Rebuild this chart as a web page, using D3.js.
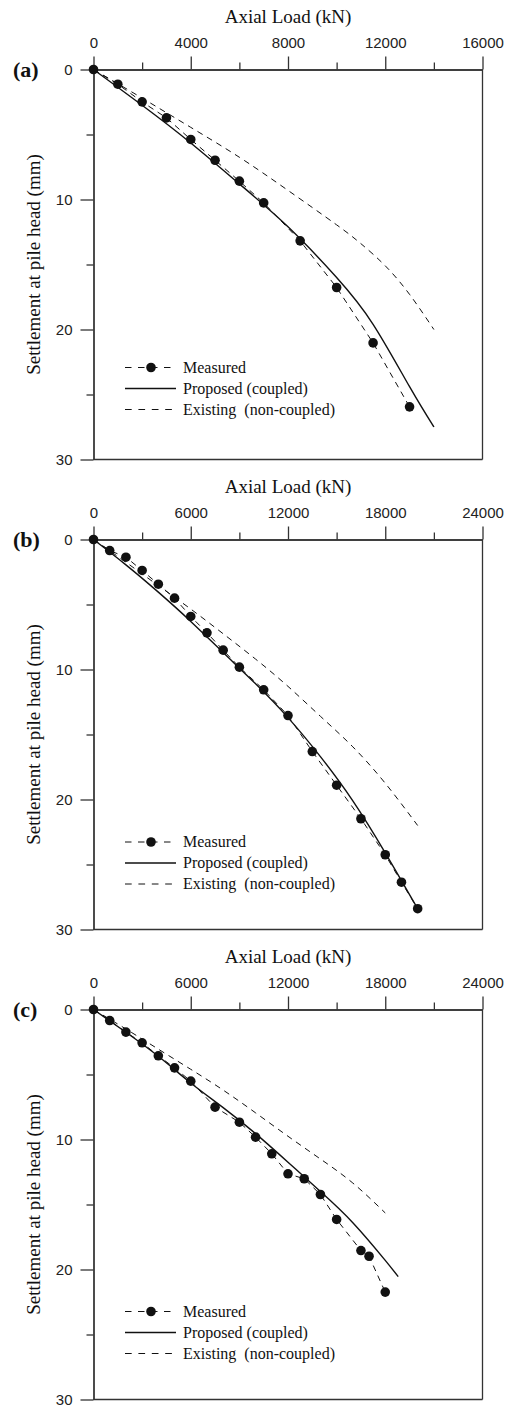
<!DOCTYPE html>
<html>
<head>
<meta charset="utf-8">
<script src="https://cdn.jsdelivr.net/npm/d3@7"></script>
<style>
  html, body { margin: 0; padding: 0; background: #fff; }
  svg { display: block; }
</style>
</head>
<body>
<svg id="chart" width="512" height="1405"></svg>
<script>
// Load–settlement curves of three test piles: [load (kN), settlement (mm)]
const measuredA = [[0,0],[1000,1.13],[2000,2.49],[3000,3.72],[4000,5.38],[5000,6.98],[6000,8.59],[7000,10.26],[8500,13.18],[10000,16.77],[11500,21.03],[13000,25.95]];
const proposedA = [[0,0],[2000,2.75],[4000,5.65],[6000,8.8],[8000,12.1],[10000,16.0],[11500,19.6],[13000,24.4],[14000,27.5]];
const existingA = [[0,0],[2000,2.2],[4000,4.45],[6000,6.75],[8000,9.3],[10000,11.95],[11000,13.4],[12000,15.1],[13000,17.3],[14000,20.0]];

const measuredB = [[0,0],[1000,0.85],[2000,1.36],[3000,2.38],[4000,3.44],[5000,4.51],[6000,5.92],[7000,7.18],[8000,8.51],[9000,9.82],[10500,11.56],[12000,13.54],[13500,16.31],[15000,18.9],[16500,21.48],[18000,24.25],[19000,26.36],[20000,28.4]];
const proposedB = [[0,0],[2000,1.95],[4000,4.05],[6000,6.3],[8000,8.7],[10000,11.1],[12000,13.7],[14000,16.7],[16000,20.1],[18000,24.1],[20000,28.4]];
const existingB = [[0,0],[2000,1.75],[4000,3.55],[6000,5.35],[8000,7.25],[10000,9.2],[12000,11.3],[14000,13.6],[16000,15.95],[18000,18.75],[20000,22.0]];

const measuredC = [[0,0],[1000,0.85],[2000,1.74],[3000,2.56],[4000,3.56],[5000,4.49],[6000,5.51],[7500,7.51],[9000,8.67],[10000,9.82],[11000,11.1],[12000,12.64],[13000,13.02],[14000,14.23],[15000,16.15],[16500,18.54],[17000,18.98],[18000,21.74]];
const proposedC = [[0,0],[2000,1.75],[4000,3.6],[6000,5.65],[8000,7.55],[10000,9.55],[12000,11.75],[14000,14.0],[16000,16.4],[18000,19.3],[18800,20.55]];
const existingC = [[0,0],[2000,1.5],[4000,3.05],[6000,4.6],[8000,6.2],[10000,7.95],[12000,9.75],[14000,11.5],[16000,13.35],[18000,15.65]];

// Axis ticks
const loadTicksA = [0, 4000, 8000, 12000, 16000];
const loadMinorA = [2000, 6000, 10000, 14000];
const loadTicksBC = [0, 6000, 12000, 18000, 24000];
const loadMinorBC = [3000, 9000, 15000, 21000];
const settleTicks = [0, 10, 20, 30];
const settleMinor = [5, 15, 25];

const panelLabels = ["(a)", "(b)", "(c)"];
const legendLabels = ["Measured", "Proposed (coupled)", "Existing  (non-coupled)"];

const panels = [
  { label: panelLabels[0], xMax: 16000, ticks: loadTicksA, minor: loadMinorA, measured: measuredA, proposed: proposedA, existing: existingA, legendTop: 298 },
  { label: panelLabels[1], xMax: 24000, ticks: loadTicksBC, minor: loadMinorBC, measured: measuredB, proposed: proposedB, existing: existingB, legendTop: 302.5 },
  { label: panelLabels[2], xMax: 24000, ticks: loadTicksBC, minor: loadMinorBC, measured: measuredC, proposed: proposedC, existing: existingC, legendTop: 302 }
];

const SERIF = "'Liberation Serif', 'Times New Roman', serif";
const SANS = "'Liberation Sans', Arial, sans-serif";
const INK = "#111";
const AXIS = "#333";

const left = 93.5, right = 482.5, plotH = 390, step = 470, firstTop = 69.5;

const svg = d3.select("#chart");

panels.forEach((p, i) => {
  const top = firstTop + i * step;
  const bottom = top + plotH;
  const x = d3.scaleLinear().domain([0, p.xMax]).range([left, right]);
  const y = d3.scaleLinear().domain([0, 30]).range([top, bottom]);
  const g = svg.append("g");

  // top load axis: major ticks with labels, minor ticks between
  g.append("g").attr("transform", `translate(0,${top})`)
    .call(d3.axisTop(x).tickValues(p.ticks).tickSize(13).tickSizeOuter(0).tickPadding(9).tickFormat(d3.format("d")));
  g.append("g").attr("transform", `translate(0,${top})`)
    .call(d3.axisTop(x).tickValues(p.minor).tickSize(7).tickSizeOuter(0).tickFormat(""));

  // left settlement axis
  g.append("g").attr("transform", `translate(${left},0)`)
    .call(d3.axisLeft(y).tickValues(settleTicks).tickSize(13).tickSizeOuter(0).tickPadding(8).tickFormat(d3.format("d")));
  g.append("g").attr("transform", `translate(${left},0)`)
    .call(d3.axisLeft(y).tickValues(settleMinor).tickSize(7).tickSizeOuter(0).tickFormat(""));

  g.selectAll(".domain, .tick line").attr("stroke", AXIS).attr("stroke-width", 1.3);
  g.selectAll(".tick text").attr("font-family", SANS).attr("font-size", 15).attr("fill", "#222");

  // closing frame on the right and bottom
  g.append("line").attr("x1", right).attr("x2", right).attr("y1", top).attr("y2", bottom)
    .attr("stroke", AXIS).attr("stroke-width", 1.3);
  g.append("line").attr("x1", left).attr("x2", right).attr("y1", bottom).attr("y2", bottom)
    .attr("stroke", AXIS).attr("stroke-width", 1.3);

  // titles
  g.append("text").attr("x", (left + right) / 2).attr("y", top - 46.5)
    .attr("text-anchor", "middle").attr("font-family", SERIF).attr("font-size", 19).attr("fill", INK)
    .text("Axial Load (kN)");
  g.append("text").attr("transform", `translate(40,${(top + bottom) / 2}) rotate(-90)`)
    .attr("text-anchor", "middle").attr("font-family", SERIF).attr("font-size", 19).attr("fill", INK)
    .text("Settlement at pile head (mm)");
  g.append("text").attr("x", 13).attr("y", top + 7.5)
    .attr("font-family", SERIF).attr("font-weight", "bold").attr("font-size", 22).attr("fill", INK)
    .text(p.label);

  const smooth = d3.line().x(d => x(d[0])).y(d => y(d[1])).curve(d3.curveNatural);
  const straight = d3.line().x(d => x(d[0])).y(d => y(d[1]));

  // existing (non-coupled) prediction
  g.append("path").attr("d", smooth(p.existing)).attr("fill", "none")
    .attr("stroke", INK).attr("stroke-width", 1).attr("stroke-dasharray", "6,5");
  // proposed (coupled) prediction
  g.append("path").attr("d", smooth(p.proposed)).attr("fill", "none")
    .attr("stroke", INK).attr("stroke-width", 1.4);
  // measured data joined by a dashed line
  g.append("path").attr("d", straight(p.measured)).attr("fill", "none")
    .attr("stroke", INK).attr("stroke-width", 1).attr("stroke-dasharray", "6,5");
  g.selectAll("circle.pt").data(p.measured).join("circle").attr("class", "pt")
    .attr("cx", d => x(d[0])).attr("cy", d => y(d[1])).attr("r", 4.8).attr("fill", INK);

  // legend
  const ly = top + p.legendTop;
  const rowGap = 21;
  const lg = g.append("g");
  lg.append("line").attr("x1", 125).attr("x2", 172).attr("y1", ly).attr("y2", ly)
    .attr("stroke", INK).attr("stroke-width", 1).attr("stroke-dasharray", "6.5,6.5");
  lg.append("circle").attr("cx", 151).attr("cy", ly).attr("r", 4.8).attr("fill", INK);
  lg.append("line").attr("x1", 125).attr("x2", 176).attr("y1", ly + rowGap).attr("y2", ly + rowGap)
    .attr("stroke", INK).attr("stroke-width", 1.4);
  lg.append("line").attr("x1", 125).attr("x2", 172).attr("y1", ly + 2 * rowGap).attr("y2", ly + 2 * rowGap)
    .attr("stroke", INK).attr("stroke-width", 1).attr("stroke-dasharray", "6.7,6.7");
  legendLabels.forEach((t, k) => {
    lg.append("text").attr("x", 183).attr("y", ly + k * rowGap).attr("dy", "0.33em")
      .attr("font-family", SERIF).attr("font-size", 16).attr("fill", INK)
      .attr("xml:space", "preserve").style("white-space", "pre")
      .text(t);
  });
});
</script>
</body>
</html>
